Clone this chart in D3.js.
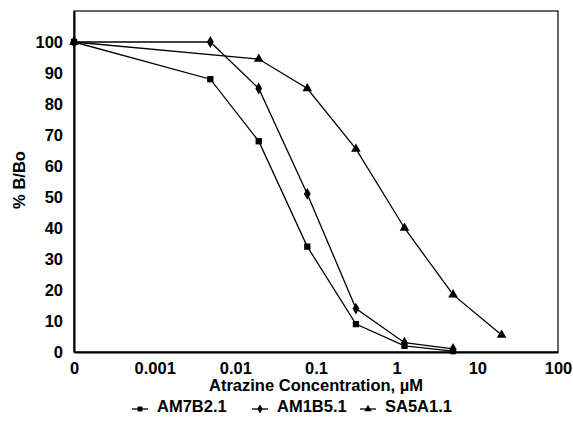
<!DOCTYPE html>
<html>
<head>
<meta charset="utf-8">
<script src="https://cdn.jsdelivr.net/npm/d3@7"></script>
<style>
  body { margin: 0; background: #fff; }
  svg { display: block; font-family: "Liberation Sans", Arial, sans-serif; font-weight: bold; }
</style>
</head>
<body>
<div id="chart"></div>
<script>
// "0" on the axis is drawn at 1e-4
const concA = [0.0001, 0.0049, 0.0195, 0.078, 0.3125, 1.25, 5];
const concB = [0.0001, 0.0195, 0.078, 0.3125, 1.25, 5, 20];
const am7b2 = [100, 88, 68, 34, 9, 2, 0.3];
const am1b5 = [100, 100, 85, 51, 14, 3, 1];
const sa5a1 = [100, 94.5, 85, 65.5, 40, 18.5, 5.5];
const xTicks = [0.0001, 0.001, 0.01, 0.1, 1, 10, 100];
const xTickLabels = ["0", "0.001", "0.01", "0.1", "1", "10", "100"];
const yTicks = [0, 10, 20, 30, 40, 50, 60, 70, 80, 90, 100];

const series = [
  {name: "AM7B2.1", x: concA, y: am7b2, shape: d3.symbolSquare},
  {name: "AM1B5.1", x: concA, y: am1b5, shape: d3.symbolDiamond},
  {name: "SA5A1.1", x: concB, y: sa5a1, shape: d3.symbolTriangle}
];

const width = 573, height = 423;
const margin = {top: 11, right: 15, bottom: 71, left: 74};

const svg = d3.select("#chart").append("svg")
  .attr("width", width)
  .attr("height", height);

const x = d3.scaleLog()
  .domain([0.0001, 100])
  .range([margin.left, width - margin.right]);

const y = d3.scaleLinear()
  .domain([0, 110])
  .range([height - margin.bottom, margin.top]);

// frame
svg.append("rect")
  .attr("x", margin.left)
  .attr("y", margin.top)
  .attr("width", width - margin.right - margin.left)
  .attr("height", height - margin.bottom - margin.top)
  .attr("fill", "none")
  .attr("stroke", "#000")
  .attr("stroke-width", 1.2);

const xAxis = g => g
  .attr("transform", `translate(0, ${height - margin.bottom})`)
  .call(d3.axisBottom(x).tickValues(xTicks).tickFormat((d, i) => xTickLabels[i]).tickSize(0).tickPadding(10))
  .call(g => g.select(".domain").attr("stroke-width", 2))
  .call(g => g.selectAll("text").attr("font-size", 16.5).attr("font-weight", "bold").attr("font-family", "Liberation Sans, Arial, sans-serif"));

const yAxis = g => g
  .attr("transform", `translate(${margin.left}, 0)`)
  .call(d3.axisLeft(y).tickValues(yTicks).tickSize(0).tickPadding(11))
  .call(g => g.select(".domain").attr("stroke-width", 2))
  .call(g => g.selectAll("text").attr("font-size", 16.5).attr("font-weight", "bold").attr("font-family", "Liberation Sans, Arial, sans-serif"));

svg.append("g").call(xAxis);
svg.append("g").call(yAxis);

svg.append("text")
  .attr("x", (margin.left + width - margin.right) / 2)
  .attr("y", 391)
  .attr("text-anchor", "middle")
  .attr("font-size", 16.5)
  .text("Atrazine Concentration, \u00b5M");

svg.append("text")
  .attr("transform", "translate(25, 180) rotate(-90)")
  .attr("text-anchor", "middle")
  .attr("font-size", 16.5)
  .text("% B/Bo");

const line = d3.line()
  .x(d => x(d[0]))
  .y(d => y(d[1]));

const plot = svg.append("g");
series.forEach(s => {
  const pts = s.x.map((v, i) => [v, s.y[i]]);
  plot.append("path")
    .datum(pts)
    .attr("fill", "none")
    .attr("stroke", "#000")
    .attr("stroke-width", 1.3)
    .attr("d", line);
  plot.selectAll(null)
    .data(pts)
    .join("path")
      .attr("transform", d => `translate(${x(d[0])},${y(d[1])})`)
      .attr("d", d3.symbol(s.shape, 40))
      .attr("fill", "#000");
});

// legend
const legendX = [132, 252, 360];
const legend = svg.append("g");
series.forEach((s, i) => {
  const g = legend.append("g").attr("transform", `translate(${legendX[i]}, 409)`);
  g.append("line")
    .attr("x1", 0).attr("x2", 16)
    .attr("stroke", "#000").attr("stroke-width", 1.3);
  g.append("path")
    .attr("transform", "translate(8,0)")
    .attr("d", d3.symbol(s.shape, 24))
    .attr("fill", "#000");
  g.append("text")
    .attr("x", 25)
    .attr("y", 3)
    .attr("font-size", 16.5)
    .text(s.name);
});
</script>
</body>
</html>
